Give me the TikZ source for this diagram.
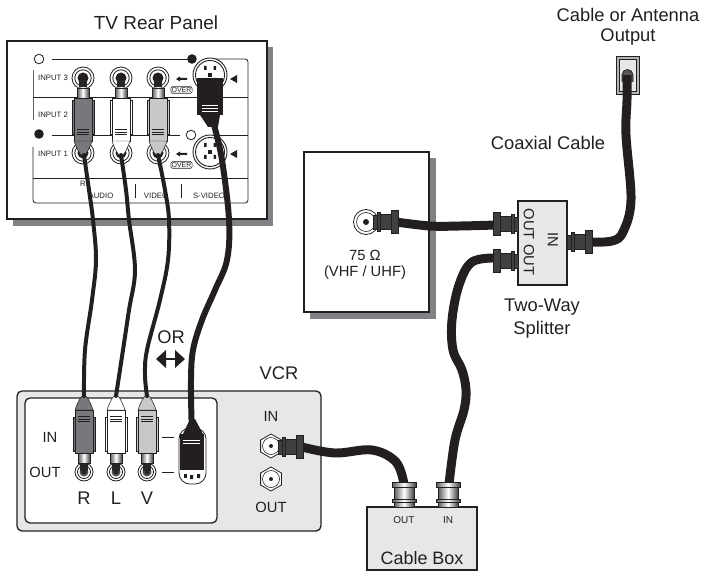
\documentclass[tikz,border=0pt]{standalone}
\usepackage{fontspec}
\setmainfont{Liberation Sans}
\definecolor{ink}{HTML}{231F20}
\definecolor{panelgray}{HTML}{E6E7E8}
\definecolor{shadowgray}{HTML}{808285}
\definecolor{plugdark}{HTML}{77787B}
\definecolor{pluglight}{HTML}{C7C8CA}
\newcommand{\fs}[1]{\fontsize{#1}{#1}\selectfont}
\tikzset{
  lbl/.style={text=ink,inner sep=0pt,font=\fs{18.4}},
  small/.style={text=ink,inner sep=0pt,font=\fs{7.8}},
  mid/.style={text=ink,inner sep=0pt,font=\fs{14.8}},
  cable/.style={draw=ink,line width=4pt,line cap=round,line join=round},
  scable/.style={draw=ink,line width=6pt,line cap=round,line join=round},
  coaxcable/.style={draw=ink,line width=9pt,line join=round},
  metal/.style={top color=black!75,middle color=white,bottom color=black!75,draw=ink,line width=.6pt},
  vmetal/.style={left color=black!65,right color=black!75,middle color=white,draw=ink,line width=.6pt},
  plate/.style={fill=white,draw=ink,line width=1.5pt},
  shadow/.style={fill=shadowgray,draw=none},
  thinl/.style={draw=ink,line width=.8pt},
  pics/rca/.style={code={
    \fill[black!85] (-4,30) rectangle (4,40);
    \shade[vmetal] (-6,22) rectangle (6,32);
    \draw[ink,line width=.5pt,fill=#1] (-11,-14) rectangle (11,20);
    \draw[ink,line width=.5pt,fill=#1] (-9,-21) rectangle (9,22);
    \draw[ink,line width=.5pt,fill=#1] (-9,-21) .. controls (-7,-27) and (-3,-36) .. (0,-36) .. controls (3,-36) and (7,-27) .. (9,-21) -- cycle;
    \draw[ink,line width=.7pt] (-6,-14.5) -- (6,-14.5) (-6,-12) -- (6,-12) (-6,-9.5) -- (6,-9.5);
  }},
  pics/jack/.style={code={
    \draw[ink,line width=.8pt,fill=white] (0,0) circle (11);
    \draw[ink,line width=.8pt,fill=white] (0,0) circle (8.2);
    \fill[ink] (0,0) circle (5.5);
  }},
  pics/vjack/.style={code={
    \draw[ink,line width=.8pt,fill=white] (0,0) circle (9);
    \draw[ink,line width=.8pt,fill=white] (0,0) circle (6.5);
    \fill[black!70] (0,0) circle (4.5);
    \fill[ink] (0,0) circle (2.2);
  }},
  pics/svideo/.style={code={
    \draw[ink,line width=.9pt,fill=white] (0,0) circle (17);
    \draw[ink,line width=.9pt] (0,0) circle (14.5);
    \fill[ink] (-6,-9) rectangle (-3.5,-5) (3.5,-9) rectangle (6,-5);
    \fill[ink] (-6,3) rectangle (-3.5,7) (3.5,3) rectangle (6,7);
    \fill[ink] (-2,-2) rectangle (2,2);
  }},
  pics/coax/.style={code={
    \shade[metal] (0,-7) rectangle (4,7);
    \shade[metal] (4,-9.5) rectangle (7,9.5);
    \shade[metal] (7,-7.5) rectangle (18,7.5);
    \shade[metal] (18,-11.5) rectangle (25,11.5);
  }},
  pics/vcoax/.style={code={
    \shade[vmetal] (-10,0) rectangle (10,-5);
    \shade[vmetal] (-12,-5) rectangle (12,-8);
    \shade[vmetal] (-10,-8) rectangle (10,-20);
    \shade[vmetal] (-12,-20) rectangle (12,-25);
  }},
  pics/hexjack/.style={code={
    \draw[ink,line width=.8pt,fill=white] (0,-12) -- (10.4,-6) -- (10.4,6) -- (0,12) -- (-10.4,6) -- (-10.4,-6) -- cycle;
    \draw[ink,line width=.6pt] (0,0) circle (8.5);
    \fill[ink] (0,0) circle (2);
  }},
}
\begin{document}
\begin{tikzpicture}[x=1bp,y=-1bp]
\useasboundingbox (0,0) rectangle (702,571);
% ---------- titles
\node[lbl,font=\fs{19}] (ttv) at (156,23) {TV Rear Panel};
\node[lbl] (tant1) at (628,15) {Cable or Antenna};
\node[lbl] (tant2) at (628,37) {Output};
\node[lbl] (tcoax) at (548,143) {Coaxial Cable};
\node[lbl] (tsp1) at (542,307) {Two-Way};
\node[lbl] (tsp2) at (542,330) {Splitter};
\node[lbl] (tvcr) at (279,373) {VCR};
\node[lbl] (tor) at (171,337) {OR};
% ---------- OR arrow
\draw[ink,line width=1.5pt] (160,359) -- (181,359);
\fill[ink] (156,359) -- (166,350) -- (166,368) -- cycle;
\fill[ink] (185,359) -- (175,350) -- (175,368) -- cycle;
% ---------- TV panel
\fill[shadow] (13,47) rectangle (273,226);
\draw[plate] (7,41) rectangle (267,219);
\draw[thinl] (52,59) -- (192,59);
\draw[thinl,rounded corners=3pt] (215,59) -- (248,59) -- (248,203) -- (33,203) -- (33,147);
\draw[draw=black!60,line width=.8pt] (33,70) -- (33,120);
\draw[thinl] (33,97) -- (248,97);
\draw[thinl] (52,135) -- (180,135);
\draw[thinl] (205,135) -- (248,135);
\draw[thinl] (33,178) -- (248,178);
\draw[ink,line width=.8pt,fill=white] (39,59) circle (4.8);
\fill[ink] (192,59) circle (4.8);
\fill[ink] (39,134) circle (4.8);
\draw[ink,line width=.8pt,fill=white] (191,135) circle (4.8);
\node[small] (in3) at (53,78) {INPUT 3};
\node[small] (in2) at (53,115) {INPUT 2};
\node[small] (in1) at (53,154) {INPUT 1};
\node[small] (lr) at (83,184) {R};
\node[small] (laudio) at (101,196) {AUDIO};
\node[small] (lvideo) at (156,196) {VIDEO};
\node[small] (lsvideo) at (209,196) {S-VIDEO};
\draw[thinl] (135,184) -- (135,198) (181,184) -- (181,198);
\pic at (83,78) {jack};
\pic at (121,78) {jack};
\pic at (158,78) {jack};
\pic at (83,153) {jack};
\pic at (121,153) {jack};
\pic at (158,153) {jack};
\pic at (210,75) {svideo};
\pic at (210,152) {svideo};
% small arrows, OVER, triangles
\foreach \yy in {79,154}{
  \fill[ink] (176,\yy) -- (180,\yy-2.5) -- (180,\yy-1) -- (187,\yy-1) -- (187,\yy+1) -- (180,\yy+1) -- (180,\yy+2.5) -- cycle;
  \fill[ink] (230,\yy) -- (237,\yy-4) -- (237,\yy+4) -- cycle;
}
\node[draw=ink,line width=.6pt,rounded corners=1.5pt,fill=white,text=ink,inner sep=.8pt,font=\fs{7}] (ov1) at (181.5,90) {OVER};
\node[draw=ink,line width=.6pt,rounded corners=1.5pt,fill=white,text=ink,inner sep=.8pt,font=\fs{7}] (ov2) at (181.5,165) {OVER};
% TV plugs (pin upward, cone downward)
\pic[yscale=-1] at (83,120) {rca=plugdark};
\pic[yscale=-1] at (121,120) {rca=white};
\pic[yscale=-1] at (158,120) {rca=pluglight};
% TV S-video plug
\fill[ink] (197,78) rectangle (223,115);
\fill[ink] (200,115) -- (220,115) -- (218,127) -- (208,127) -- cycle;
\draw[white,line width=.4pt] (202,105) -- (218,105) (202,108) -- (218,108) (202,111) -- (218,111);
% ---------- VCR
\draw[fill=panelgray,draw=ink,line width=1.3pt,rounded corners=5pt] (17,391) rectangle (321,531);
\draw[fill=white,draw=ink,line width=1.3pt,rounded corners=5pt] (25,398) rectangle (217,523);
\node[mid] (vin) at (50,437) {IN};
\node[mid] (vout) at (45,472) {OUT};
\node[lbl] (vr) at (84,498) {R};
\node[lbl] (vl) at (116,498) {L};
\node[lbl] (vv) at (147,498) {V};
\draw[thinl,line width=1pt] (162,437) -- (174,437) (162,472) -- (174,472);
\pic at (84,472) {vjack};
\pic at (116,472) {vjack};
\pic at (147,472) {vjack};
\pic at (84,431) {rca=plugdark};
\pic at (116,431) {rca=white};
\pic at (147,431) {rca=pluglight};
% VCR S-video plug
\draw[ink,line width=.8pt,fill=white,rounded corners=11pt] (179,428) rectangle (206,484);
\fill[ink] (184,478) rectangle (186.5,474);
\fill[ink] (190,479) rectangle (193,475) (197,478) rectangle (200,474);
\fill[ink] (180,434) rectangle (204,470);
\fill[ink] (183,434) -- (203,434) -- (195,419) -- (190,419) -- cycle;
\draw[white,line width=.4pt] (183,440) -- (200,440) (183,443) -- (200,443);
\node[mid] (vin2) at (271,416) {IN};
\node[mid] (vout2) at (271,507) {OUT};
\pic at (271,446) {hexjack};
\pic at (271,479) {hexjack};
% ---------- wall plate
\fill[shadow] (310,158) rectangle (436,319);
\draw[plate] (304,152) rectangle (429,312);
\node[mid] (ohm) at (365,255) {75 Ω};
\node[mid] (vhf) at (365,273) {(VHF / UHF)};
\draw[ink,line width=.8pt,fill=white] (366,222) circle (12.5);
\draw[ink,line width=.6pt] (366,222) circle (9.5);
\fill[ink] (366,222) circle (3);
% ---------- splitter
\draw[fill=panelgray,draw=ink,line width=1.1pt] (518,201) rectangle (567,285);
\node[mid,rotate=-90] (soo) at (529,242) {OUT OUT};
\node[mid,rotate=-90] (sin) at (553,240) {IN};
% ---------- antenna outlet
\draw[ink,line width=.8pt,fill=shadowgray!60] (616,56) rectangle (639,94);
\draw[ink,line width=.8pt,fill=panelgray] (619,59) rectangle (636,91);
\draw[ink,line width=.8pt,fill=black!65] (622,82) -- (622,75) arc (180:360:5.5) -- (633,82);
% ---------- cable box
\draw[fill=panelgray,draw=ink,line width=1.1pt] (367,507) rectangle (477,570);
\node[small,font=\fs{10}] (cout) at (404,520) {OUT};
\node[small,font=\fs{10}] (cin) at (448,520) {IN};
\node[text=ink,inner sep=0pt,font=\fs{18}] (cbox) at (422,558) {Cable Box};
% ---------- end points of cables
\coordinate (rA) at (84,155);  \coordinate (rB) at (84,396);
\coordinate (lA) at (121,155); \coordinate (lB) at (116,396);
\coordinate (vA) at (158,155); \coordinate (vB) at (147,396);
\coordinate (sA) at (214,125); \coordinate (sB) at (191.5,420);
\coordinate (vcrC) at (302,447); \coordinate (boxO) at (404,484);
\coordinate (boxI) at (449,484); \coordinate (splO2) at (496,258);
\coordinate (splO1) at (496,225); \coordinate (wallC) at (396,222);
\coordinate (splI) at (590,242); \coordinate (ant) at (627,75);
% ---------- cables
\draw[cable] plot[smooth,tension=.6] coordinates {(rA) (89,190) (93,220) (96,260) (92,300) (85,350) (rB)};
\draw[cable] plot[smooth,tension=.6] coordinates {(lA) (126,190) (129,220) (135,270) (129,310) (123,350) (lB)};
\draw[cable] plot[smooth,tension=.6] coordinates {(vA) (165,190) (169,220) (168,260) (160,300) (147,350) (145,375) (vB)};
\draw[scable] plot[smooth,tension=.6] coordinates {(sA) (222,160) (229,220) (227,260) (215,290) (202,320) (193,350) (191,380) (sB)};
\draw[coaxcable] plot[smooth,tension=.6] coordinates {(wallC) (430,226) (460,226) (splO1)};
\draw[coaxcable] plot[smooth,tension=.6] coordinates {(splO2) (472,262) (459,285) (452,320) (453,350) (462,370) (466,390) (464,410) (455,440) (boxI)};
\draw[coaxcable] plot[smooth,tension=.6] coordinates {(vcrC) (335,453) (372,450) (396,462) (boxO)};
\draw[coaxcable] plot[smooth,tension=.6] coordinates {(splI) (612,241) (623,232) (631,200) (626,135) (627,100) (ant)};
% ---------- coax connectors
\pic at (373,222) {coax};
\pic[xscale=-1] at (518,224) {coax};
\pic[xscale=-1] at (518,261) {coax};
\pic at (567,242) {coax};
\pic at (278,447) {coax};
\pic at (404,507) {vcoax};
\pic at (448,507) {vcoax};
\end{tikzpicture}
\end{document}
